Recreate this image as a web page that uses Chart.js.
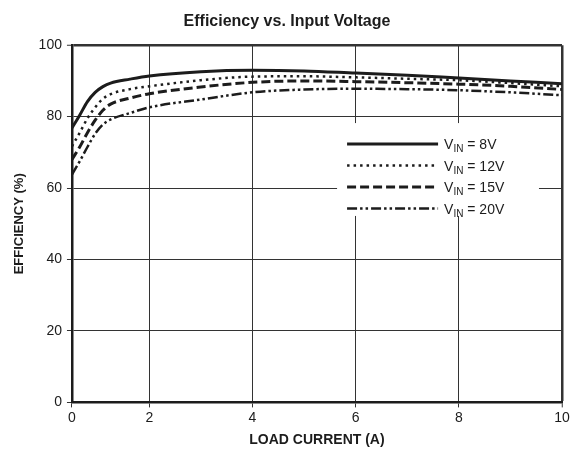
<!DOCTYPE html>
<html>
<head>
<meta charset="utf-8">
<script src="https://cdn.jsdelivr.net/npm/chart.js@4/dist/chart.umd.min.js"></script>
<style>
  html, body { margin: 0; padding: 0; background: #fff; }
  #wrap { width: 580px; height: 460px; }
</style>
</head>
<body>
<div id="wrap"><canvas id="effChart" width="580" height="460"></canvas></div>
<script>
// load current (A)
const loadCurrent = [0, 0.2, 0.4, 0.6, 0.8, 1, 1.5, 2, 3, 4, 5, 6, 7, 8, 9, 10];
// efficiency (%) for each input voltage
const eff8V  = [76.8, 80.4, 84.2, 86.8, 88.4, 89.4, 90.5, 91.4, 92.6, 93.0, 92.8, 92.2, 91.6, 90.8, 90.0, 89.2];
const eff12V = [71.7, 75.5, 79.5, 82.6, 85.0, 86.3, 87.7, 88.5, 90.2, 91.2, 91.3, 91.0, 90.6, 90.2, 89.4, 88.5];
const eff15V = [68.0, 71.5, 75.5, 79.0, 81.8, 83.5, 85.2, 86.4, 88.3, 89.6, 90.0, 89.8, 89.5, 89.1, 88.5, 87.6];
const eff20V = [63.8, 67.5, 71.5, 75.2, 77.8, 79.2, 81.0, 82.6, 84.8, 86.8, 87.6, 87.8, 87.7, 87.4, 86.8, 86.0];
const seriesVolts = ['8V', '12V', '15V', '20V'];
const xTicks = [0, 2, 4, 6, 8, 10];
const yTicks = [0, 20, 40, 60, 80, 100];

const FONT = "'Liberation Sans', Arial, Helvetica, sans-serif";
const INK = '#1c1c1c';

// the 0..2 A interval of the original axis is drawn narrower than the others
const SPLIT = 1.5 / 9.5;
class SplitLinearScale extends Chart.LinearScale {
  static id = 'splitLinear';
  static defaults = Chart.LinearScale.defaults;
  getPixelForValue(v) {
    if (v === null || v === undefined) return NaN;
    const d = v < 2 ? (v / 2) * SPLIT : SPLIT + ((v - 2) / 8) * (1 - SPLIT);
    return this.getPixelForDecimal(d);
  }
  getValueForPixel(p) {
    const d = this.getDecimalForPixel(p);
    return d < SPLIT ? (d / SPLIT) * 2 : 2 + ((d - SPLIT) / (1 - SPLIT)) * 8;
  }
}
Chart.register(SplitLinearScale);

const styles = [
  { borderWidth: 3,   borderDash: [] },
  { borderWidth: 2.5, borderDash: [2.5, 4] },
  { borderWidth: 3,   borderDash: [9, 4] },
  { borderWidth: 2.5, borderDash: [10, 3, 2.5, 3, 2.5, 3] }
];
const values = [eff8V, eff12V, eff15V, eff20V];

const datasets = values.map((vals, i) => ({
  label: 'VIN = ' + seriesVolts[i],
  data: vals.map((y, k) => ({ x: loadCurrent[k], y: y })),
  borderColor: INK,
  borderWidth: styles[i].borderWidth,
  borderDash: styles[i].borderDash,
  pointRadius: 0,
  fill: false,
  cubicInterpolationMode: 'monotone'
}));

// legend drawn with the subscript "IN"
const vinLegend = {
  id: 'vinLegend',
  beforeDatasetsDraw(chart) {
    const { ctx, chartArea: a } = chart;
    const w = a.right - a.left, h = a.bottom - a.top;
    const bx = a.left + w * 0.541, by = a.top + h * 0.218;
    const bw = w * 0.412, bh = h * 0.26;
    ctx.save();
    ctx.fillStyle = '#fff';
    ctx.fillRect(bx, by, bw, bh);
    chart.data.datasets.forEach((ds, i) => {
      const y = by + 21 + i * 21.5;
      const x0 = bx + 10, x1 = bx + 101;
      ctx.strokeStyle = INK;
      ctx.lineWidth = ds.borderWidth;
      ctx.setLineDash(ds.borderDash);
      ctx.beginPath();
      ctx.moveTo(x0, y);
      ctx.lineTo(x1, y);
      ctx.stroke();
      ctx.setLineDash([]);
      ctx.fillStyle = INK;
      ctx.textBaseline = 'alphabetic';
      ctx.textAlign = 'left';
      let tx = x1 + 6;
      ctx.font = '14px ' + FONT;
      ctx.fillText('V', tx, y + 5);
      tx += ctx.measureText('V').width;
      ctx.font = '10px ' + FONT;
      ctx.fillText('IN', tx, y + 8);
      tx += ctx.measureText('IN').width;
      ctx.font = '14px ' + FONT;
      ctx.fillText(' = ' + seriesVolts[i], tx, y + 5);
    });
    ctx.restore();
  }
};

const ctx = document.getElementById('effChart').getContext('2d');
const effChart = new Chart(ctx, {
  type: 'line',
  data: { datasets: datasets },
  plugins: [vinLegend],
  options: {
    responsive: false,
    animation: false,
    layout: { padding: { left: 12, right: 18, top: 6, bottom: 11 } },
    plugins: {
      legend: { display: false },
      tooltip: { enabled: false },
      title: {
        display: true,
        text: 'Efficiency vs. Input Voltage',
        color: INK,
        font: { family: FONT, size: 16, weight: 'bold' },
        padding: { top: 6, bottom: 14 }
      }
    },
    scales: {
      x: {
        type: 'splitLinear',
        min: 0,
        max: 10,
        afterBuildTicks: (s) => { s.ticks = xTicks.map(v => ({ value: v })); },
        border: { display: true, width: 2.5, color: INK },
        grid: {
          color: '#333',
          lineWidth: (c) => (c.tick && c.tick.value === 10 ? 2.5 : 1),
          tickLength: 5,
          tickWidth: 1,
          tickColor: '#333'
        },
        ticks: { color: INK, font: { family: FONT, size: 14 }, padding: 2, maxRotation: 0 },
        title: {
          display: true,
          text: 'LOAD CURRENT (A)',
          color: INK,
          font: { family: FONT, size: 14, weight: 'bold' },
          padding: { top: 4, bottom: 0 }
        }
      },
      y: {
        min: 0,
        max: 100,
        afterBuildTicks: (s) => { s.ticks = yTicks.map(v => ({ value: v })); },
        border: { display: true, width: 2.5, color: INK },
        grid: {
          color: '#333',
          lineWidth: (c) => (c.tick && c.tick.value === 100 ? 2.5 : 1),
          tickLength: 5,
          tickWidth: 1,
          tickColor: '#333'
        },
        ticks: { color: INK, font: { family: FONT, size: 14 }, padding: 5 },
        title: {
          display: true,
          text: 'EFFICIENCY (%)',
          color: INK,
          font: { family: FONT, size: 13, weight: 'bold' },
          padding: { top: 0, bottom: 6 }
        }
      }
    }
  }
});
</script>
</body>
</html>
